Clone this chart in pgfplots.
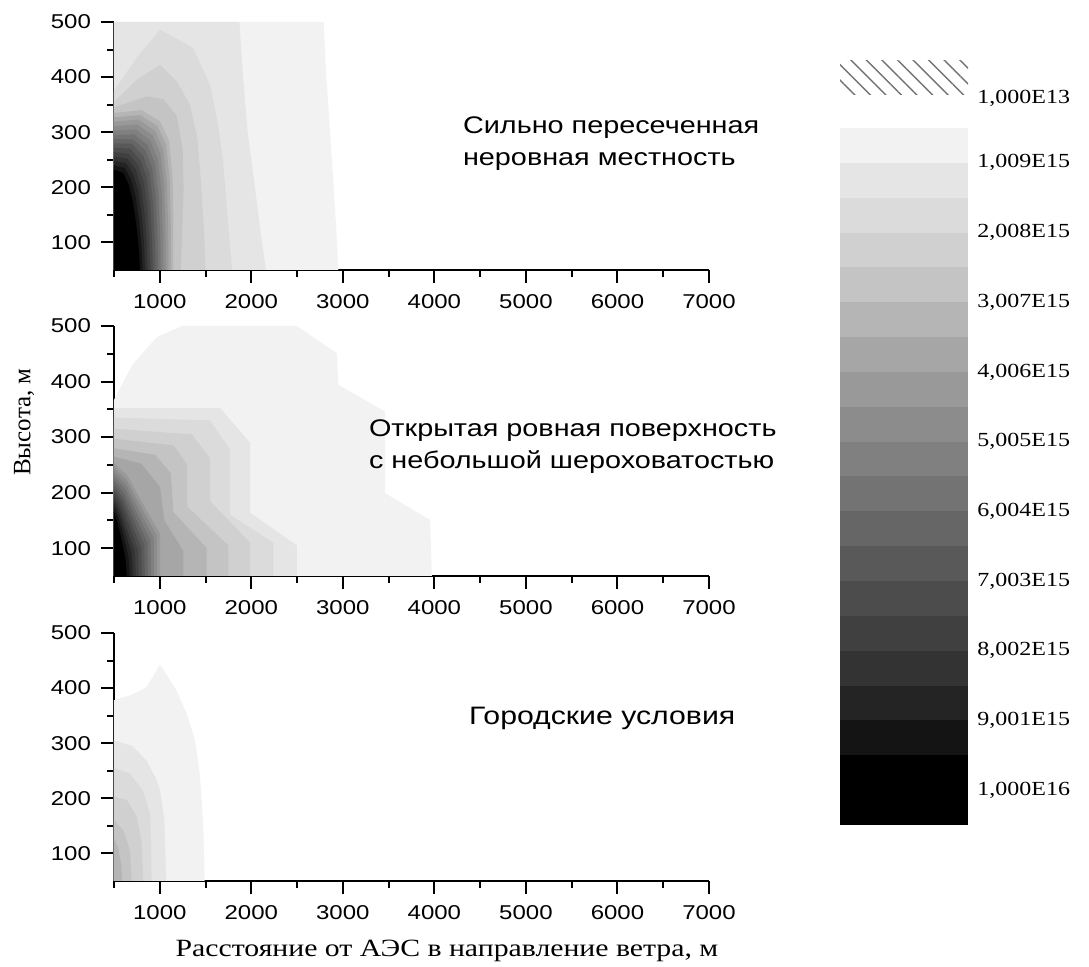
\documentclass[border=0pt]{standalone}
\usepackage{fontspec}
\usepackage{pgfplots}
\pgfplotsset{compat=1.18}
\usetikzlibrary{patterns.meta}

\setmainfont{Liberation Serif}
\newfontfamily\sansx[FakeStretch=1.2]{Liberation Sans}
\newfontfamily\serifx[FakeStretch=1.2]{Liberation Serif}
\newcommand\tickfont{\sansx\fontsize{10}{12}\selectfont}
\newcommand\notefont{\sansx\fontsize{12}{16}\selectfont}
\newcommand\barfont{\serifx\fontsize{10}{12}\selectfont}
\newcommand\xlabfont{\serifx\fontsize{12.4}{14}\selectfont}
\newcommand\ylabfont{\fontsize{12.5}{14}\selectfont}

% grey levels of the contour bands, lightest (c1) to black (c19)
\definecolor{c1}{gray}{0.95}
\definecolor{c2}{gray}{0.90}
\definecolor{c3}{gray}{0.86}
\definecolor{c4}{gray}{0.815}
\definecolor{c5}{gray}{0.77}
\definecolor{c6}{gray}{0.71}
\definecolor{c7}{gray}{0.65}
\definecolor{c8}{gray}{0.60}
\definecolor{c9}{gray}{0.55}
\definecolor{c10}{gray}{0.50}
\definecolor{c11}{gray}{0.45}
\definecolor{c12}{gray}{0.40}
\definecolor{c13}{gray}{0.35}
\definecolor{c14}{gray}{0.30}
\definecolor{c15}{gray}{0.25}
\definecolor{c16}{gray}{0.20}
\definecolor{c17}{gray}{0.14}
\definecolor{c18}{gray}{0.08}
\definecolor{c19}{gray}{0.0}

\pgfplotsset{
  panel/.style={
    scale only axis, width=297.5pt, height=124pt,
    anchor=south west,
    xmin=500, xmax=7000, ymin=50, ymax=500,
    axis x line*=bottom, axis y line*=left,
    axis line style={line width=1pt},
    xtick={1000,2000,...,7000}, ytick={100,200,...,500},
    minor xtick={500,1500,...,6500}, minor ytick={150,250,...,450},
    tick align=outside,
    major tick length=6.5pt, minor tick length=3.5pt,
    tick style={line width=1pt, black},
    ticklabel style={font=\tickfont},
    xticklabel style={yshift=-2pt},
    yticklabel style={xshift=-1.5pt},
    scaled ticks=false,
    /pgf/number format/assume math mode=true,
    /pgf/number format/1000 sep={},
  },
  zone/.style={draw=none, fill=#1},
}

\begin{document}
\begin{tikzpicture}
\useasboundingbox (0,0) rectangle (544.5pt,483.5pt);

% ---------------- top panel: rough terrain ----------------
\begin{axis}[panel, at={(57pt,348.5pt)}]
\addplot[zone=c1] coordinates {(500,50)(500,500)(2790,500)(2820,400)(2860,300)(2900,200)(2930,120)(2950,50)} -- cycle;
\addplot[zone=c2] coordinates {(500,50)(500,500)(1870,500)(1910,400)(1960,300)(2040,200)(2100,120)(2160,50)} -- cycle;
\addplot[zone=c3] coordinates {(500,50)(500,375)(747,435)(1003,486)(1363,453)(1549,386)(1630,320)(1690,250)(1740,150)(1790,50)} -- cycle;
\addplot[zone=c4] coordinates {(500,50)(500,355)(747,395)(1003,422)(1185,392)(1330,350)(1410,290)(1450,210)(1480,130)(1500,50)} -- cycle;
\addplot[zone=c5] coordinates {(500,50)(500,345)(857,365)(1039,360)(1185,330)(1250,270)(1260,200)(1245,120)(1230,50)} -- cycle;
\addplot[zone=c6] coordinates {(500,50)(500,335)(800,340)(1000,320)(1100,285)(1140,220)(1150,130)(1150,50)} -- cycle;
\addplot[zone=c7] coordinates {(500,50)(500,327)(785,331)(974,311)(1070,277)(1110,213)(1121,127)(1122,50)} -- cycle;
\addplot[zone=c8] coordinates {(500,50)(500,319)(769,323)(948,302)(1039,268)(1079,206)(1092,124)(1094,50)} -- cycle;
\addplot[zone=c9] coordinates {(500,50)(500,311)(754,314)(922,294)(1009,260)(1049,199)(1062,121)(1066,50)} -- cycle;
\addplot[zone=c10] coordinates {(500,50)(500,303)(739,305)(895,285)(979,251)(1019,192)(1033,118)(1037,50)} -- cycle;
\addplot[zone=c11] coordinates {(500,50)(500,295)(723,296)(869,276)(948,243)(988,185)(1004,115)(1009,50)} -- cycle;
\addplot[zone=c12] coordinates {(500,50)(500,288)(708,287)(843,267)(918,234)(958,179)(975,112)(981,50)} -- cycle;
\addplot[zone=c13] coordinates {(500,50)(500,280)(692,279)(817,258)(887,226)(927,172)(945,109)(953,50)} -- cycle;
\addplot[zone=c14] coordinates {(500,50)(500,272)(677,270)(791,249)(857,217)(897,165)(916,105)(925,50)} -- cycle;
\addplot[zone=c15] coordinates {(500,50)(500,264)(662,261)(765,240)(827,209)(867,158)(887,102)(897,50)} -- cycle;
\addplot[zone=c16] coordinates {(500,50)(500,256)(646,252)(739,232)(796,200)(836,151)(858,99)(869,50)} -- cycle;
\addplot[zone=c17] coordinates {(500,50)(500,248)(631,244)(712,223)(766,192)(806,144)(829,96)(840,50)} -- cycle;
\addplot[zone=c18] coordinates {(500,50)(500,240)(615,235)(686,214)(735,184)(775,137)(799,93)(812,50)} -- cycle;
\addplot[zone=c19] coordinates {(500,50)(500,232)(600,226)(660,205)(705,175)(745,130)(770,90)(784,50)} -- cycle;
\end{axis}

% ---------------- middle panel: open flat surface ----------------
\begin{axis}[panel, at={(57pt,195.5pt)}, height=125pt]
\addplot[zone=c1] coordinates {(500,50)(500,367)(700,430)(967,480)(1240,500)(2497,500)(2934,451)(2952,394)(3462,346)(3462,199)(3954,151)(3972,50)} -- cycle;
\addplot[zone=c2] coordinates {(500,50)(500,352)(1659,352)(1986,290)(1986,164)(2497,105)(2497,50)} -- cycle;
\addplot[zone=c3] coordinates {(500,50)(500,335)(1549,330)(1768,277)(1768,160)(2241,110)(2241,50)} -- cycle;
\addplot[zone=c4] coordinates {(500,50)(500,315)(1350,305)(1549,262)(1549,185)(1986,110)(1986,50)} -- cycle;
\addplot[zone=c5] coordinates {(500,50)(500,297)(1150,285)(1300,250)(1300,175)(1749,105)(1749,50)} -- cycle;
\addplot[zone=c6] coordinates {(500,50)(500,280)(950,268)(1120,235)(1150,165)(1513,100)(1513,50)} -- cycle;
\addplot[zone=c7] coordinates {(500,50)(500,265)(800,252)(1003,210)(1050,150)(1258,95)(1258,50)} -- cycle;
\addplot[zone=c8] coordinates {(500,50)(500,253)(650,230)(850,170)(1003,127)(1003,50)} -- cycle;
\addplot[zone=c9] coordinates {(500,50)(500,245)(640,222)(826,165)(969,123)(970,50)} -- cycle;
\addplot[zone=c10] coordinates {(500,50)(500,237)(630,215)(803,159)(934,119)(937,50)} -- cycle;
\addplot[zone=c11] coordinates {(500,50)(500,229)(620,207)(779,154)(900,114)(904,50)} -- cycle;
\addplot[zone=c12] coordinates {(500,50)(500,221)(610,199)(756,148)(866,110)(870,50)} -- cycle;
\addplot[zone=c13] coordinates {(500,50)(500,213)(600,191)(732,143)(831,106)(837,50)} -- cycle;
\addplot[zone=c14] coordinates {(500,50)(500,205)(590,184)(708,137)(797,101)(804,50)} -- cycle;
\addplot[zone=c15] coordinates {(500,50)(500,197)(580,176)(685,132)(762,97)(771,50)} -- cycle;
\addplot[zone=c16] coordinates {(500,50)(500,189)(570,168)(661,126)(728,93)(738,50)} -- cycle;
\addplot[zone=c17] coordinates {(500,50)(500,181)(560,161)(637,121)(694,89)(704,50)} -- cycle;
\addplot[zone=c18] coordinates {(500,50)(500,173)(550,153)(614,116)(659,84)(671,50)} -- cycle;
\addplot[zone=c19] coordinates {(500,50)(500,165)(540,145)(590,110)(625,80)(638,50)} -- cycle;
\end{axis}

% ---------------- bottom panel: urban conditions ----------------
\begin{axis}[panel, at={(57pt,43pt)}]
\addplot[zone=c1] coordinates {(500,50)(500,378)(675,387)(784,395)(857,402)(1003,443)(1185,395)(1294,354)(1385,306)(1440,240)(1476,150)(1490,50)} -- cycle;
\addplot[zone=c2] coordinates {(500,50)(500,305)(700,295)(857,268)(960,235)(1003,215)(1050,160)(1070,50)} -- cycle;
\addplot[zone=c3] coordinates {(500,50)(500,255)(675,245)(817,213)(893,173)(905,120)(911,50)} -- cycle;
\addplot[zone=c4] coordinates {(500,50)(500,203)(640,197)(748,167)(802,120)(820,50)} -- cycle;
\addplot[zone=c5] coordinates {(500,50)(500,161)(602,142)(675,106)(693,50)} -- cycle;
\addplot[zone=c6] coordinates {(500,50)(500,128)(545,110)(580,80)(590,50)} -- cycle;
\end{axis}

% ---------------- colour scale ----------------
\begin{axis}[at={(420pt,71pt)}, anchor=south west, scale only axis,
  width=64pt, height=383.35pt, xmin=0, xmax=1, ymin=0, ymax=22,
  hide axis, clip=false]
\addplot[zone=c19] coordinates {(0,0)(1,0)(1,2)(0,2)} -- cycle;
\addplot[zone=c18] coordinates {(0,2)(1,2)(1,3)(0,3)} -- cycle;
\addplot[zone=c17] coordinates {(0,3)(1,3)(1,4)(0,4)} -- cycle;
\addplot[zone=c16] coordinates {(0,4)(1,4)(1,5)(0,5)} -- cycle;
\addplot[zone=c15] coordinates {(0,5)(1,5)(1,6)(0,6)} -- cycle;
\addplot[zone=c14] coordinates {(0,6)(1,6)(1,7)(0,7)} -- cycle;
\addplot[zone=c13] coordinates {(0,7)(1,7)(1,8)(0,8)} -- cycle;
\addplot[zone=c12] coordinates {(0,8)(1,8)(1,9)(0,9)} -- cycle;
\addplot[zone=c11] coordinates {(0,9)(1,9)(1,10)(0,10)} -- cycle;
\addplot[zone=c10] coordinates {(0,10)(1,10)(1,11)(0,11)} -- cycle;
\addplot[zone=c9] coordinates {(0,11)(1,11)(1,12)(0,12)} -- cycle;
\addplot[zone=c8] coordinates {(0,12)(1,12)(1,13)(0,13)} -- cycle;
\addplot[zone=c7] coordinates {(0,13)(1,13)(1,14)(0,14)} -- cycle;
\addplot[zone=c6] coordinates {(0,14)(1,14)(1,15)(0,15)} -- cycle;
\addplot[zone=c5] coordinates {(0,15)(1,15)(1,16)(0,16)} -- cycle;
\addplot[zone=c4] coordinates {(0,16)(1,16)(1,17)(0,17)} -- cycle;
\addplot[zone=c3] coordinates {(0,17)(1,17)(1,18)(0,18)} -- cycle;
\addplot[zone=c2] coordinates {(0,18)(1,18)(1,19)(0,19)} -- cycle;
\addplot[zone=c1] coordinates {(0,19)(1,19)(1,20)(0,20)} -- cycle;
\addplot[draw=none, pattern={Lines[angle=-45,distance=5.5pt,line width=0.7pt]}, pattern color=black!55]
  coordinates {(0,20.95)(1,20.95)(1,21.95)(0,21.95)} -- cycle;
\begin{scope}[every node/.style={anchor=west, font=\barfont, inner sep=0pt, xshift=4.5pt}]
\node at (axis cs:1,20.86) {1,000E13};
\node at (axis cs:1,19) {1,009E15};
\node at (axis cs:1,17) {2,008E15};
\node at (axis cs:1,15) {3,007E15};
\node at (axis cs:1,13) {4,006E15};
\node at (axis cs:1,11) {5,005E15};
\node at (axis cs:1,9) {6,004E15};
\node at (axis cs:1,7) {7,003E15};
\node at (axis cs:1,5) {8,002E15};
\node at (axis cs:1,3) {9,001E15};
\node at (axis cs:1,1) {1,000E16};
\end{scope}
\end{axis}

% panel captions and axis titles
\node[anchor=west, align=left, font=\notefont] at (228pt,411.5pt) {Сильно пересеченная\\неровная местность};
\node[anchor=west, align=left, font=\notefont] at (181pt,260pt) {Открытая ровная поверхность\\с небольшой шероховатостью};
\node[anchor=west, font=\sansx\fontsize{12.6}{15}\selectfont] at (231pt,124.5pt) {Городские условия};
\node[rotate=90, font=\ylabfont] at (12pt,272.5pt) {Высота, м};
\node[anchor=base, font=\xlabfont] at (223.5pt,5pt) {Расстояние от АЭС в направление ветра, м};
\end{tikzpicture}
\end{document}
